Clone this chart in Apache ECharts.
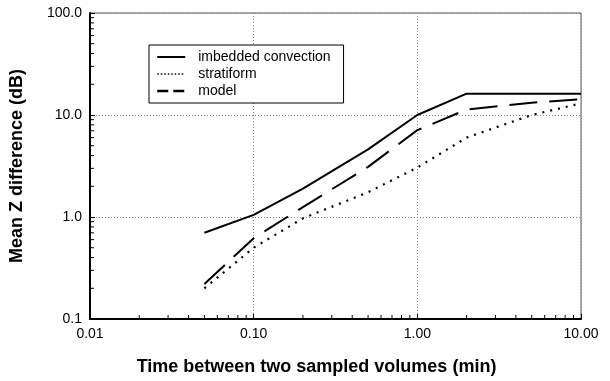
<!DOCTYPE html>
<html>
<head>
<meta charset="utf-8">
<script src="https://cdn.jsdelivr.net/npm/echarts@6/dist/echarts.min.js"></script>
<style>
  html, body { margin: 0; padding: 0; background: #fff; }
  #chart { width: 610px; height: 381px; }
</style>
</head>
<body>
<div id="chart"></div>
<script>
// sample spacing (min)
const times = [0.05, 0.1, 0.2, 0.5, 1, 2, 5, 10]
// mean Z difference (dB)
const convection = [0.70, 1.05, 1.9, 4.6, 10.0, 16.2, 16.2, 16.2]
const stratiform = [0.20, 0.50, 0.97, 1.75, 3.05, 6.0, 10.0, 13.0]
const model = [0.22, 0.62, 1.25, 3.1, 7.1, 11.3, 13.2, 14.3]

const xMinor = [0.02, 0.03, 0.04, 0.05, 0.06, 0.07, 0.08, 0.09,
  0.2, 0.3, 0.4, 0.5, 0.6, 0.7, 0.8, 0.9,
  2, 3, 4, 5, 6, 7, 8, 9]
const yMinor = [0.2, 0.3, 0.4, 0.5, 0.6, 0.7, 0.8, 0.9,
  2, 3, 4, 5, 6, 7, 8, 9,
  20, 30, 40, 50, 60, 70, 80, 90]

const X_MIN = 0.01, X_MAX = 10, Y_MIN = 0.1, Y_MAX = 100
const font = '"Liberation Sans", Arial, sans-serif'
const pairs = (ys) => times.map((t, i) => [t, ys[i]])

const chart = echarts.init(document.getElementById('chart'), null, { renderer: 'canvas' })

const mainAxis = (min, max, digits) => ({
  type: 'log',
  logBase: 10,
  min, max,
  axisLine: { show: true, onZero: false, lineStyle: { color: '#000', width: 2 } },
  axisTick: { show: true, inside: true, length: 5, lineStyle: { color: '#000' } },
  minorTick: { show: false },
  splitLine: { show: true, lineStyle: { color: '#888', type: [1, 2], width: 1 } },
  axisLabel: {
    color: '#000', fontSize: 14, fontFamily: font, margin: 8,
    formatter: (v) => Number(v).toFixed(digits)
  },
  nameTextStyle: { color: '#000', fontSize: 18, fontWeight: 'bold', fontFamily: font },
  nameLocation: 'middle'
})

// short inside ticks at 2..9 of every decade, placed with the log axes
const minorTicks = (values, onX) => ({
  type: 'custom',
  silent: true,
  clip: false,
  z: 5,
  data: values.map(v => onX ? [v, Y_MIN] : [X_MIN, v]),
  renderItem: (params, api) => {
    const p = api.coord([api.value(0), api.value(1)])
    const shape = onX
      ? { x1: p[0], y1: p[1] - 1, x2: p[0], y2: p[1] - 4 }
      : { x1: p[0] + 1, y1: p[1], x2: p[0] + 4, y2: p[1] }
    return { type: 'line', shape, style: { stroke: '#000', lineWidth: 1 } }
  }
})

chart.setOption({
  animation: false,
  backgroundColor: '#fff',
  grid: {
    left: 87, right: 29, top: 13, bottom: 55,
    show: true, borderColor: '#555', borderWidth: 1
  },
  legend: {
    left: 149, top: 45,
    orient: 'vertical',
    backgroundColor: '#fff',
    borderColor: '#000', borderWidth: 1,
    padding: [5, 13, 5, 7],
    itemWidth: 28, itemHeight: 10, itemGap: 3,
    itemStyle: { opacity: 0 },
    textStyle: { color: '#000', fontSize: 14, fontFamily: font, padding: [0, 0, 0, 8] },
    data: [
      { name: 'imbedded convection', lineStyle: { color: '#000', width: 2, type: 'solid' } },
      { name: 'stratiform', lineStyle: { color: '#000', width: 1.5, type: [1.5, 2] } },
      { name: 'model', lineStyle: { color: '#000', width: 2.5, type: [11, 5] } }
    ]
  },
  xAxis: Object.assign(mainAxis(X_MIN, X_MAX, 2), {
    position: 'bottom',
    name: 'Time between two sampled volumes (min)',
    nameGap: 39
  }),
  yAxis: Object.assign(mainAxis(Y_MIN, Y_MAX, 1), {
    position: 'left',
    name: 'Mean Z difference (dB)',
    nameGap: 64
  }),
  series: [
    {
      name: 'imbedded convection', type: 'line', data: pairs(convection),
      symbol: 'none', lineStyle: { color: '#000', width: 2 }, itemStyle: { color: '#000' }
    },
    {
      name: 'stratiform', type: 'line', data: pairs(stratiform),
      symbol: 'none', lineStyle: { color: '#000', width: 2.2, type: [2, 6] }, itemStyle: { color: '#000' }
    },
    {
      name: 'model', type: 'line', data: pairs(model),
      symbol: 'none', lineStyle: { color: '#000', width: 2, type: [28, 12] }, itemStyle: { color: '#000' }
    },
    minorTicks(xMinor, true),
    minorTicks(yMinor, false)
  ]
})
chart.setOption({
  xAxis: { nameTextStyle: { padding: [0, 38, 0, 0] } }
})
</script>
</body>
</html>
